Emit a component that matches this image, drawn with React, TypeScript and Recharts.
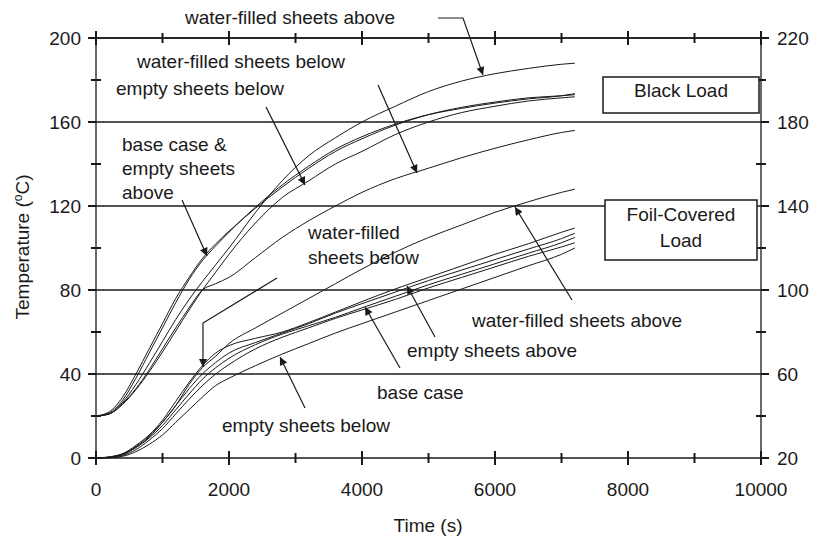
import { LineChart, Line, XAxis, YAxis, ReferenceLine } from 'recharts';

// time (s)
const TIME = [0, 200, 400, 600, 800, 1000, 1200, 1400, 1600, 1800, 2000, 2400, 2800, 3200, 3600, 4000, 4500, 5000, 5500, 6000, 6500, 7000, 7200];

// Black load, left axis (°C)
const blackWaterAbove = [20, 21, 26.5, 35, 45, 55.5, 66, 75.5, 84, 92, 100, 117, 132, 144, 152.5, 160, 167.5, 174.5, 179.5, 183, 185.5, 187.5, 188];
const blackBaseCase = [20, 22, 29, 40, 52, 64, 76, 86, 95, 102, 108, 119, 129, 138, 146, 152, 158.5, 163.5, 167, 169.5, 171.5, 172.5, 173];
const blackEmptyAbove = [20, 21.5, 27.5, 38, 50, 62, 74, 85, 94, 101, 107.5, 119.5, 130, 139, 147, 153, 159, 163.5, 166.5, 169, 171, 172.5, 173.5];
const blackEmptyBelow = [20, 21, 25.5, 32.5, 41, 50.5, 60.5, 70.5, 80, 88.5, 97, 112, 124, 132, 140, 146, 154, 160, 164.5, 167.5, 170, 171.5, 172];
const blackWaterBelow = [20, 21, 26, 33, 42, 52, 62, 71.5, 80, 83, 86, 95.5, 105, 113, 120, 126.5, 133, 138, 143, 147.5, 151.5, 155, 156];

// Foil-covered load, right axis (°C)
const foilWaterAbove = [20, 20.5, 22, 25, 30, 37, 45, 55, 63, 68.5, 74.5, 82, 89, 96, 103, 110, 118, 125, 131, 137, 142, 146.5, 148];
const foilWaterBelow = [20, 20.5, 22, 26, 31, 38, 47, 56, 64, 70, 73.5, 77, 80, 84.5, 89.5, 94.5, 100.5, 106, 111.5, 117, 122, 127.5, 129.5];
const foilEmptyAbove = [20, 20.4, 21.8, 25.5, 30.5, 37, 45, 53, 60, 65.5, 70, 75, 79.5, 84, 89, 93.5, 99, 104.5, 109.5, 114.5, 119.5, 124.5, 127];
const foilBaseCase = [20, 20.3, 21.5, 25, 29.5, 35.5, 43, 50.5, 57.5, 63, 67.5, 74, 79, 83, 87, 91.5, 97, 102.5, 107.5, 112.5, 117.5, 122.5, 125];
const foilBaseCaseRepeat = [20, 20.2, 21.2, 24, 28.5, 34, 41, 48, 54.5, 60, 64.5, 72, 77.5, 82, 86.5, 90.5, 95.5, 101, 106, 111, 116, 120.5, 122.5];
const foilEmptyBelow = [20, 20.1, 20.8, 23, 26.5, 31, 37, 43, 49, 54.5, 58, 64, 69.5, 74.5, 79.5, 84, 89.5, 95, 100.5, 106, 111.5, 117, 120];

const X_TICKS = [0, 1000, 2000, 3000, 4000, 5000, 6000, 7000, 8000, 9000, 10000];
const LEFT_TICKS = [0, 20, 40, 60, 80, 100, 120, 140, 160, 180, 200];
const RIGHT_TICKS = [20, 40, 60, 80, 100, 120, 140, 160, 180, 200, 220];
const GRID_LINES = [40, 80, 120, 160, 200];

const blackSeries = [blackWaterAbove, blackBaseCase, blackEmptyAbove, blackEmptyBelow, blackWaterBelow];
const foilSeries = [foilWaterAbove, foilWaterBelow, foilEmptyAbove, foilBaseCase, foilBaseCaseRepeat, foilEmptyBelow];

const data = TIME.map((t, i) => {
  const row: Record<string, number> = { t };
  blackSeries.forEach((s, k) => (row[`b${k}`] = s[i]));
  foilSeries.forEach((s, k) => (row[`f${k}`] = s[i]));
  return row;
});

const FONT = '"Liberation Sans", Arial, sans-serif';
const FS = 19;
const INK = '#1a1a1a';
const TW = 2;

const mark = (d: string) => <path d={d} stroke={INK} strokeWidth={TW} fill="none" />;

const LeftTick = ({ x, y, payload }: any) => {
  const major = payload.value % 40 === 0;
  return (
    <g>
      {major ? mark(`M${x - 8},${y}H${x}`) : mark(`M${x - 5},${y}H${x + 5}`)}
      {major && (
        <text x={x - 15} y={y} dy="0.36em" textAnchor="end" fontFamily={FONT} fontSize={FS} fill={INK} stroke="none">
          {payload.value}
        </text>
      )}
    </g>
  );
};

const RightTick = ({ x, y, payload }: any) => {
  const major = (payload.value - 20) % 40 === 0;
  return (
    <g>
      {major ? mark(`M${x},${y}H${x + 8}`) : mark(`M${x - 5},${y}H${x + 5}`)}
      {major && (
        <text x={x + 16} y={y} dy="0.36em" textAnchor="start" fontFamily={FONT} fontSize={FS} fill={INK} stroke="none">
          {payload.value}
        </text>
      )}
    </g>
  );
};

const BottomTick = ({ x, y, payload }: any) => {
  const major = payload.value % 2000 === 0;
  const h = major ? 7 : 5;
  return (
    <g>
      {mark(`M${x},${y - h}V${y + h}`)}
      {major && (
        <text x={x} y={y + 38} textAnchor="middle" fontFamily={FONT} fontSize={FS} fill={INK} stroke="none">
          {payload.value}
        </text>
      )}
    </g>
  );
};

const TopTick = ({ x, y, payload }: any) => {
  const h = payload.value % 2000 === 0 ? 7 : 5;
  return <g>{mark(`M${x},${y - h}V${y + h}`)}</g>;
};

// annotation texts: [text, x, baseline]
const labels: [string, number, number][] = [
  ['water-filled sheets above', 185, 24],
  ['water-filled sheets below', 137, 68],
  ['empty sheets below', 116, 95],
  ['base case &', 122, 151],
  ['empty sheets', 122, 175],
  ['above', 122, 199],
  ['water-filled', 308, 239],
  ['sheets below', 308, 264],
  ['water-filled sheets above', 472, 327],
  ['empty sheets above', 407, 357],
  ['base case', 377, 399],
  ['empty sheets below', 222, 432],
];

// leader arrows, last point gets the arrowhead
const arrows: number[][] = [
  [438, 18, 463, 18, 483, 75],
  [378, 85, 417, 173],
  [266, 107, 305, 185],
  [182, 200, 207, 256],
  [277, 278, 203, 323, 203, 367],
  [572, 300, 515, 207],
  [435, 337, 407, 286],
  [400, 368, 365, 307],
  [305, 408, 280, 357],
];

const Overlay = () => (
  <svg width={814} height={541} style={{ position: 'absolute', left: 0, top: 0, pointerEvents: 'none' }}>
    <defs>
      <marker id="ah" viewBox="0 0 10 10" refX="10" refY="5" markerWidth="13" markerHeight="8" orient="auto" markerUnits="userSpaceOnUse">
        <path d="M0,0 L10,5 L0,10 z" fill={INK} />
      </marker>
    </defs>
    {arrows.map((p, i) => (
      <polyline key={i} points={p.join(' ')} fill="none" stroke={INK} strokeWidth={1.2} markerEnd="url(#ah)" />
    ))}
    <g fontFamily={FONT} fontSize={FS} fill={INK}>
      {labels.map(([s, x, y], i) => (
        <text key={i} x={x} y={y}>
          {s}
        </text>
      ))}
      <rect x={603} y={77} width={156} height={36} fill="#fff" stroke={INK} strokeWidth={1.5} />
      <text x={681} y={97} textAnchor="middle">Black Load</text>
      <rect x={605} y={200} width={152} height={60} fill="#fff" stroke={INK} strokeWidth={1.5} />
      <text x={681} y={221} textAnchor="middle">Foil-Covered</text>
      <text x={681} y={247} textAnchor="middle">Load</text>
      <text x={428} y={532} textAnchor="middle">Time (s)</text>
      <text transform="translate(29,247) rotate(-90)" textAnchor="middle">
        Temperature (<tspan fontSize={12} dy={-7}>o</tspan>
        <tspan dy={7}>C)</tspan>
      </text>
    </g>
  </svg>
);

const axisCommon = {
  type: 'number' as const,
  interval: 0 as const,
  tickSize: 0,
  tickMargin: 0,
  tickLine: false,
  axisLine: { stroke: INK, strokeWidth: 1.3 },
};

export default function App() {
  return (
    <div style={{ position: 'relative', width: 814, height: 541, background: '#fff' }}>
      <style>{`body{margin:0}`}</style>
      <LineChart width={814} height={541} data={data} margin={{ top: 37, right: 8, bottom: 33, left: 36 }}>
        <XAxis {...axisCommon} xAxisId="bottom" dataKey="t" domain={[0, 10000]} ticks={X_TICKS} tick={<BottomTick />} height={50} />
        <XAxis {...axisCommon} xAxisId="top" orientation="top" dataKey="t" domain={[0, 10000]} ticks={X_TICKS} tick={<TopTick />} height={1} />
        <YAxis {...axisCommon} yAxisId="left" domain={[0, 200]} ticks={LEFT_TICKS} tick={<LeftTick />} width={60} />
        <YAxis {...axisCommon} yAxisId="right" orientation="right" domain={[20, 220]} ticks={RIGHT_TICKS} tick={<RightTick />} width={45} />
        {GRID_LINES.map((v) => (
          <ReferenceLine key={v} xAxisId="bottom" yAxisId="left" y={v} stroke={INK} strokeWidth={1.3} />
        ))}
        {blackSeries.map((_, k) => (
          <Line
            key={`b${k}`}
            xAxisId="bottom"
            yAxisId="left"
            dataKey={`b${k}`}
            type="monotone"
            stroke={INK}
            strokeWidth={1}
            dot={false}
            isAnimationActive={false}
          />
        ))}
        {foilSeries.map((_, k) => (
          <Line
            key={`f${k}`}
            xAxisId="top"
            yAxisId="right"
            dataKey={`f${k}`}
            type="monotone"
            stroke={INK}
            strokeWidth={1}
            dot={false}
            isAnimationActive={false}
          />
        ))}
      </LineChart>
      <Overlay />
    </div>
  );
}
